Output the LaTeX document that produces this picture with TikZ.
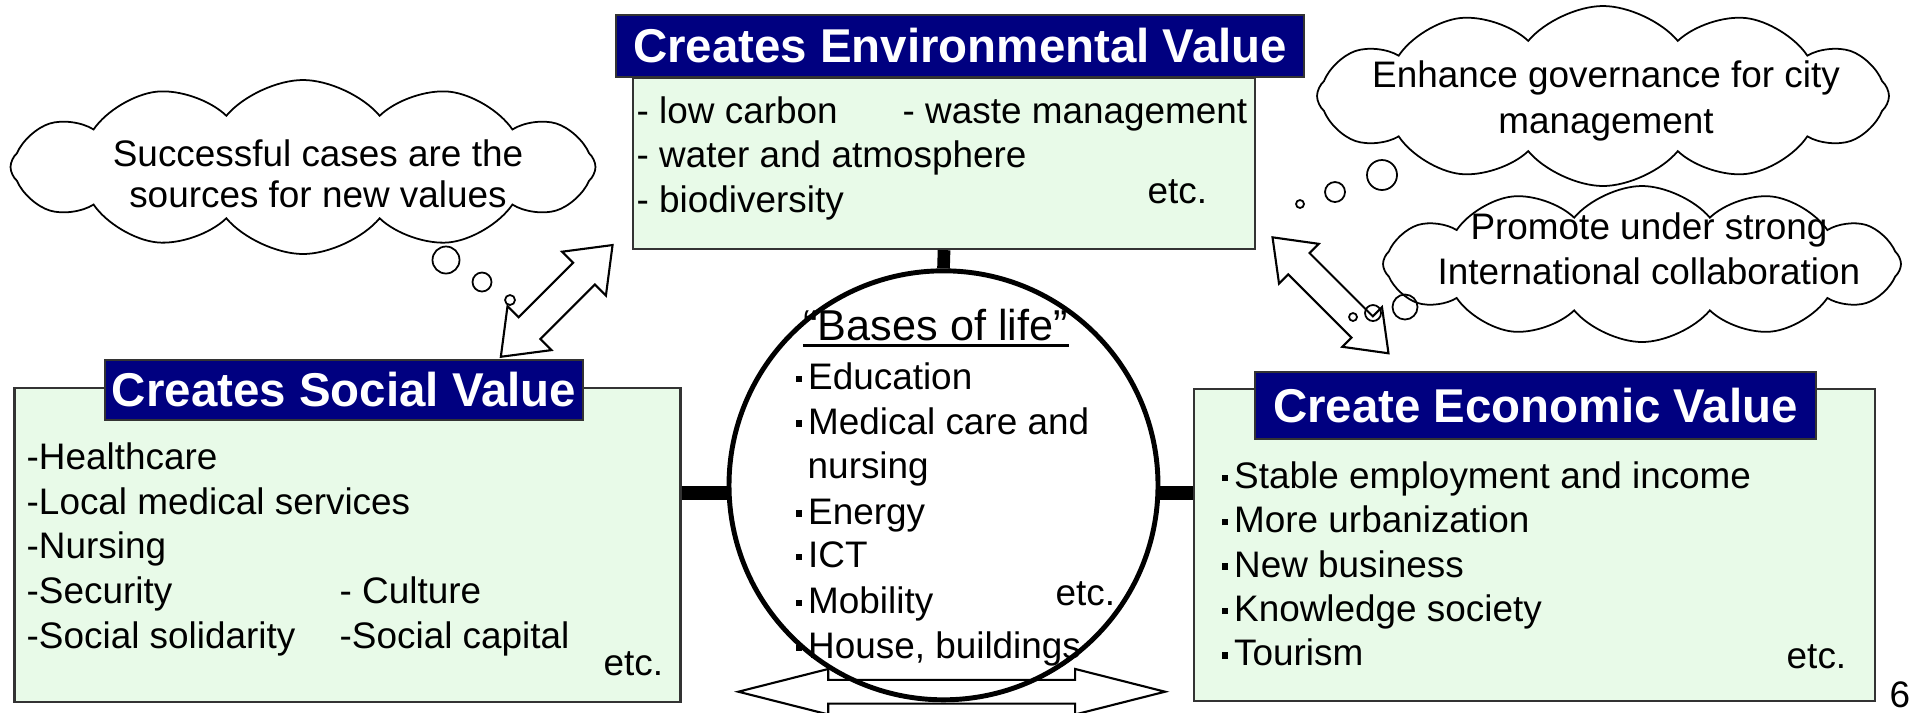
\documentclass[tikz,border=0pt]{standalone}
\usepackage{fontspec}
\setmainfont{Liberation Sans}
\usetikzlibrary{shapes.symbols,shapes.arrows}

\definecolor{titlenavy}{RGB}{0,0,128}
\definecolor{boxgreen}{RGB}{232,250,232}
\newcommand{\sqdot}{\makebox[0.5em]{\rule[0.2em]{0.17em}{0.17em}}}

\tikzset{
  greenbox/.style={draw=black!80, line width=0.6pt, fill=boxgreen, anchor=north west, inner sep=0pt},
  titlebox/.style={draw=black!80, line width=0.6pt, fill=titlenavy, text=white, inner sep=0pt,
    font=\fontsize{13.5}{16}\selectfont\bfseries},
  item/.style={anchor=base west, inner sep=0pt},
  ctext/.style={anchor=base, inner sep=0pt},
  thought/.style={cloud, draw, fill=white, line width=0.5pt, cloud puffs=12, cloud puff arc=100,
    cloud ignores aspect, inner sep=0pt},
  bubble/.style={circle, draw, line width=0.5pt, inner sep=0pt},
  blockarrow/.style={double arrow, draw, line width=0.6pt, inner xsep=0pt},
  bar/.style={line width=4pt},
}

\begin{document}
\begin{tikzpicture}[font=\fontsize{10.5}{12.6}\selectfont]
    \useasboundingbox (0,0) rectangle (19.14,-7.12);
    \clip (0,0) rectangle (19.14,-7.12);

    % Thought clouds and their bubbles
    \node[thought, minimum width=5.85cm, minimum height=1.74cm] (cloudL) at (3.03,-1.67) {};
    \node[thought, minimum width=5.72cm, minimum height=1.80cm] (cloudU) at (16.03,-0.96) {};
    \node[thought, minimum width=5.18cm, minimum height=1.56cm] (cloudD) at (16.42,-2.64) {};

    \node[bubble, minimum size=2.7mm] (bL1) at (4.46,-2.60) {};
    \node[bubble, minimum size=1.9mm] (bL2) at (4.82,-2.82) {};
    \node[bubble, minimum size=1.0mm] (bL3) at (5.10,-3.00) {};
    \node[bubble, minimum size=3.0mm] (bU1) at (13.82,-1.75) {};
    \node[bubble, minimum size=2.0mm] (bU2) at (13.35,-1.92) {};
    \node[bubble, minimum size=0.8mm] (bU3) at (13.00,-2.04) {};
    \node[bubble, minimum size=2.5mm] (bD1) at (14.05,-3.07) {};
    \node[bubble, minimum size=1.6mm] (bD2) at (13.73,-3.13) {};
    \node[bubble, minimum size=0.8mm] (bD3) at (13.53,-3.17) {};

    % Value boxes
    \node[greenbox, minimum width=6.22cm, minimum height=1.71cm] (envbox) at (6.32,-0.77) {};
    \node[greenbox, minimum width=6.66cm, minimum height=3.14cm] (socbox) at (0.134,-3.867) {};
    \node[greenbox, minimum width=6.81cm, minimum height=3.12cm] (ecobox) at (11.93,-3.88) {};

    \node[titlebox, minimum width=6.88cm, minimum height=0.62cm] (envtitle) at (9.6,-0.46) {Creates Environmental Value};
    \node[titlebox, minimum width=4.78cm, minimum height=0.60cm] (soctitle) at (3.44,-3.90) {Creates Social Value};
    \node[titlebox, minimum width=5.61cm, minimum height=0.67cm] (ecotitle) at (15.355,-4.055) {Create Economic Value};

    % Bases of life
    \node[circle, draw, line width=1.4pt, minimum size=4.29cm, inner sep=0pt] (life) at (9.435,-4.853) {};
    \draw[bar, line width=3.6pt] (envbox.south) -- (life.north);
    \draw[bar] (socbox.east |- life.182) -- (life.182);
    \draw[bar] (life.358) -- (ecobox.west |- life.358);

    % Block arrows
    \node[blockarrow, rotate=45, minimum height=1.58cm, inner ysep=0.143cm,
      double arrow head extend=0.157cm, double arrow tip angle=75] (arrL) at (5.567,-3.009) {};
    \node[blockarrow, rotate=-45, minimum height=1.64cm, inner ysep=0.14cm,
      double arrow head extend=0.13cm, double arrow tip angle=74] (arrR) at (13.305,-2.953) {};
    \node[blockarrow, minimum height=4.267cm, inner ysep=0.108cm,
      double arrow head extend=0.109cm, double arrow tip angle=28.4] (arrB) at (9.517,-6.917) {};

    % Texts in the clouds
    \node[ctext] (cL1) at (3.18,-1.66) {Successful cases are the};
    \node[ctext] (cL2) at (3.18,-2.07) {sources for new values};
    \node[ctext] (cU1) at (16.06,-0.87) {Enhance governance for city};
    \node[ctext] (cU2) at (16.06,-1.33) {management};
    \node[ctext] (cD1) at (16.49,-2.39) {Promote under strong};
    \node[ctext] (cD2) at (16.49,-2.84) {International collaboration};

    % Environmental items
    \foreach \txt [count=\i] in {- low carbon, - water and atmosphere, - biodiversity}
        \node[item] (env\i) at (6.36,{-1.23-0.445*(\i-1)}) {\txt};
    \node[item] (envW) at (9.02,-1.23) {- waste management};
    \node[item] (envEtc) at (11.47,-2.03) {etc.};

    % Social items
    \foreach \txt [count=\i] in {-Healthcare, -Local medical services, -Nursing, -Security, -Social solidarity}
        \node[item] (soc\i) at (0.26,{-4.693-0.4475*(\i-1)}) {\txt};
    \node[item] (socCul) at (3.39,-6.033) {- Culture};
    \node[item] (socCap) at (3.39,-6.483) {-Social capital};
    \node[item] (socEtc) at (6.03,-6.75) {etc.};

    % Economic items
    \foreach \txt [count=\i] in {Stable employment and income, More urbanization, New business, Knowledge society, Tourism}
        \node[item] (eco\i) at (12.15,{-4.883-0.444*(\i-1)}) {\sqdot\txt};
    \node[item] (ecoEtc) at (17.86,-6.68) {etc.};

    % Bases of life items
    \node[ctext, font=\fontsize{12.3}{14}\selectfont] (lifeTitle) at (9.357,-3.40) {“Bases of life”};
    \draw[line width=0.9pt] ([yshift=-1.6pt]lifeTitle.base west) -- ([yshift=-1.6pt]lifeTitle.base east);
    \foreach \txt/\yy [count=\i] in {Education/3.893, Medical care and/4.34, Energy/5.24, ICT/5.673, Mobility/6.133, {House, buildings}/6.583}
        \node[item] (life\i) at (7.89,-\yy) {\sqdot\txt};
    \node[item] (lifeNurs) at (8.07,-4.783) {nursing};
    \node[item] (lifeEtc) at (10.55,-6.05) {etc.};

    \node[item] (pagenum) at (18.89,-7.07) {6};
\end{tikzpicture}
\end{document}
